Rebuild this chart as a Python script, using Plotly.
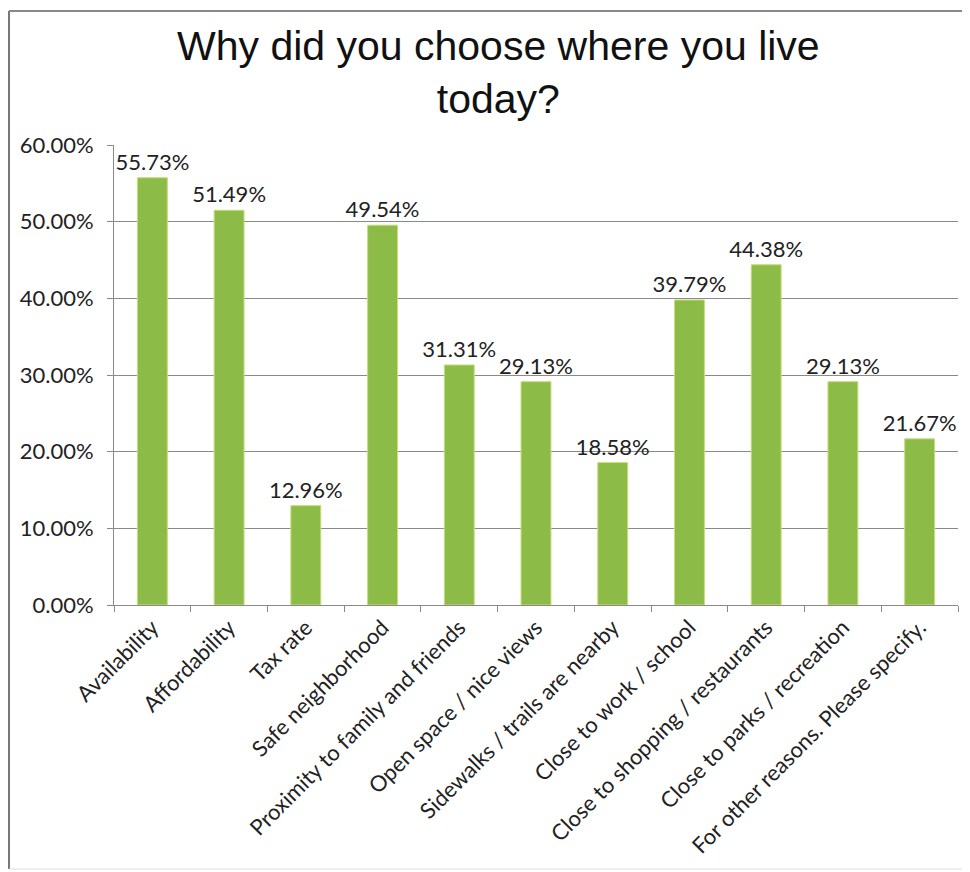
import plotly.graph_objects as go

categories = ["Availability", "Affordability", "Tax rate", "Safe neighborhood",
              "Proximity to family and friends", "Open space / nice views",
              "Sidewalks / trails are nearby", "Close to work / school",
              "Close to shopping / restaurants", "Close to parks / recreation",
              "For other reasons. Please specify."]
values = [55.73, 51.49, 12.96, 49.54, 31.31, 29.13, 18.58, 39.79, 44.38, 29.13, 21.67]
labels = [f"{v:.2f}%" for v in values]
y_ticks = [0, 10, 20, 30, 40, 50, 60]
y_tick_text = [f"{t:.2f}%" for t in y_ticks]

fig = go.Figure(go.Bar(
    x=categories, y=[v / 100 for v in values],
    text=labels, textposition="outside", cliponaxis=False, constraintext="none",
    textfont=dict(family="Lato", size=22, color="#222"),
    marker=dict(color="#8cbb47", line=dict(color="#c9dd7a", width=1)),
    width=0.39,
))

fig.update_layout(
    width=970, height=872,
    paper_bgcolor="white", plot_bgcolor="white",
    margin=dict(l=106, r=20, t=137, b=275, autoexpand=False),
    showlegend=False,
    annotations=[dict(text="Why did you choose where you live<br>today?",
                      xref="paper", yref="paper", x=0.455, y=1.158,
                      xanchor="center", yanchor="middle", showarrow=False,
                      font=dict(family="Liberation Sans", size=41, color="#111"))],
)
fig.update_yaxes(range=[0, 0.6], tickvals=[t / 100 for t in y_ticks], ticktext=y_tick_text,
                 showgrid=True, gridcolor="#8a8a8a", gridwidth=1,
                 showline=True, linecolor="#8a8a8a", linewidth=1,
                 ticks="outside", ticklen=6, tickcolor="#8a8a8a", automargin=False,
                 ticklabelstandoff=9,
                 tickfont=dict(family="Lato", size=22, color="#222"), zeroline=False)
fig.update_xaxes(tickangle=-45, tickson="boundaries", ticks="outside", ticklen=6,
                 tickcolor="#8a8a8a", showline=True, linecolor="#8a8a8a", linewidth=1,
                 automargin=False,
                 tickfont=dict(family="Lato", size=22, color="#222"), showgrid=False)

# outer chart frame: left and top edges visible, faint bottom
fig.add_shape(type="line", xref="paper", yref="paper",
              x0=-0.1244, x1=-0.1244, y0=-0.574, y1=1.2913,
              line=dict(color="#777", width=2))
fig.add_shape(type="line", xref="paper", yref="paper",
              x0=-0.1244, x1=1.05, y0=1.2913, y1=1.2913,
              line=dict(color="#888", width=2))
fig.add_shape(type="line", xref="paper", yref="paper",
              x0=-0.1244, x1=1.05, y0=-0.574, y1=-0.574,
              line=dict(color="#ddd", width=1))

fig.write_html("out.html")
